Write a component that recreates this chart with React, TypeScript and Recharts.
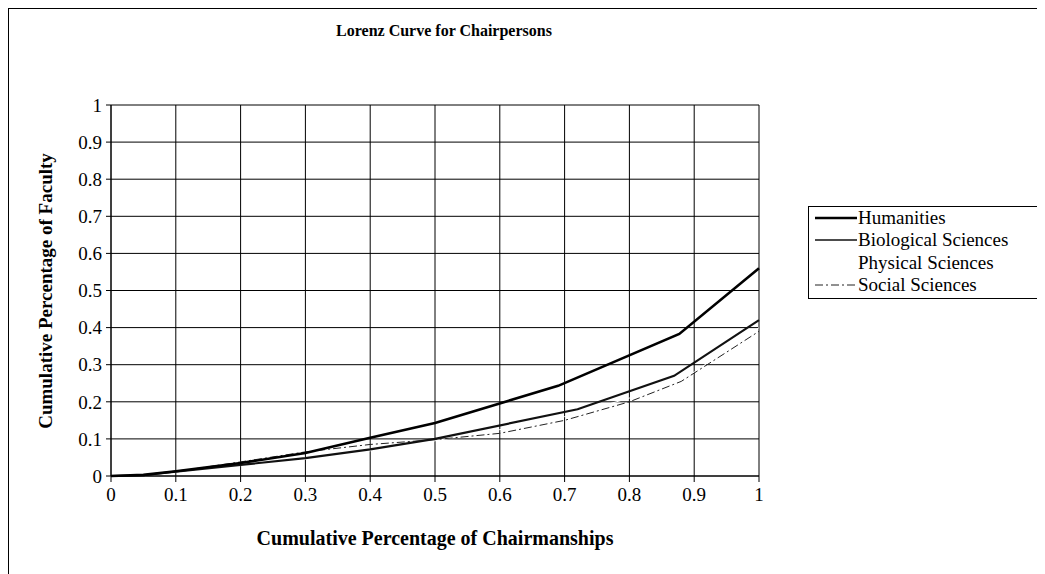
import React from 'react'
import { CartesianGrid, Line, LineChart, XAxis, YAxis } from 'recharts'

// Lorenz curves (x = cumulative share of chairmanships, y = cumulative share of faculty)
const humanities = [
  { x: 0, y: 0 },
  { x: 0.05, y: 0.003 },
  { x: 0.1, y: 0.013 },
  { x: 0.2, y: 0.035 },
  { x: 0.3, y: 0.062 },
  { x: 0.4, y: 0.103 },
  { x: 0.5, y: 0.143 },
  { x: 0.69, y: 0.243 },
  { x: 0.877, y: 0.383 },
  { x: 1, y: 0.56 },
]
const biological = [
  { x: 0, y: 0 },
  { x: 0.05, y: 0.002 },
  { x: 0.1, y: 0.012 },
  { x: 0.2, y: 0.03 },
  { x: 0.3, y: 0.048 },
  { x: 0.4, y: 0.072 },
  { x: 0.5, y: 0.1 },
  { x: 0.72, y: 0.18 },
  { x: 0.869, y: 0.27 },
  { x: 1, y: 0.42 },
]
const physical = [
  { x: 0, y: 0 },
  { x: 0.1, y: 0.01 },
  { x: 0.2, y: 0.028 },
  { x: 0.3, y: 0.045 },
  { x: 0.4, y: 0.068 },
  { x: 0.5, y: 0.095 },
  { x: 0.6, y: 0.125 },
  { x: 0.7, y: 0.16 },
  { x: 0.8, y: 0.21 },
  { x: 0.9, y: 0.28 },
  { x: 1, y: 0.4 },
]
const social = [
  { x: 0, y: 0 },
  { x: 0.05, y: 0.002 },
  { x: 0.1, y: 0.012 },
  { x: 0.2, y: 0.038 },
  { x: 0.3, y: 0.065 },
  { x: 0.4, y: 0.085 },
  { x: 0.5, y: 0.098 },
  { x: 0.6, y: 0.115 },
  { x: 0.7, y: 0.15 },
  { x: 0.8, y: 0.2 },
  { x: 0.88, y: 0.255 },
  { x: 1, y: 0.39 },
]

const ticks = [0, 0.1, 0.2, 0.3, 0.4, 0.5, 0.6, 0.7, 0.8, 0.9, 1]
// minor tick marks on the value axis, every 0.02
const minorTicks = Array.from({ length: 51 }, (_, i) => i / 50)

const FONT = '"Liberation Serif", "Times New Roman", serif'

const legendItems = [
  { name: 'Humanities', width: 2.5, dash: undefined as string | undefined, color: '#000' },
  { name: 'Biological Sciences', width: 1.5, dash: undefined, color: '#111' },
  { name: 'Physical Sciences', width: 0, dash: undefined, color: 'transparent' },
  { name: 'Social Sciences', width: 1, dash: '8 3 2 3', color: '#222' },
]

function LegendBox() {
  return (
    <div
      style={{
        position: 'absolute',
        left: 799,
        top: 197,
        border: '1px solid #000',
        background: '#fff',
        width: 222,
        padding: '0 0 2px 6px',
        fontFamily: FONT,
        fontSize: 19,
        color: '#000',
      }}
    >
      {legendItems.map((it) => (
        <div key={it.name} style={{ display: 'flex', alignItems: 'center', height: 22.3 }}>
          <svg width={42} height={10} style={{ marginRight: 1 }}>
            {it.width > 0 && (
              <line
                x1={0}
                y1={5}
                x2={42}
                y2={5}
                stroke={it.color}
                strokeWidth={it.width}
                strokeDasharray={it.dash}
              />
            )}
          </svg>
          <span>{it.name}</span>
        </div>
      ))}
    </div>
  )
}

export default function App() {
  return (
    <div
      style={{
        position: 'relative',
        width: 1037,
        height: 566,
        borderLeft: '1px solid #000',
        borderTop: '1px solid #000',
        boxSizing: 'border-box',
        background: '#fff',
      }}
    >
      <div
        style={{
          position: 'absolute',
          left: 0,
          width: 870,
          top: 13,
          textAlign: 'center',
          fontFamily: FONT,
          fontWeight: 'bold',
          fontSize: 16,
        }}
      >
        Lorenz Curve for Chairpersons
      </div>
      <div
        style={{
          position: 'absolute',
          left: 37,
          top: 282,
          transform: 'translate(-50%, -50%) rotate(-90deg)',
          whiteSpace: 'nowrap',
          fontFamily: FONT,
          fontWeight: 'bold',
          fontSize: 19,
        }}
      >
        Cumulative Percentage of Faculty
      </div>
      <div
        style={{
          position: 'absolute',
          left: 102,
          width: 648,
          top: 518,
          textAlign: 'center',
          fontFamily: FONT,
          fontWeight: 'bold',
          fontSize: 20,
        }}
      >
        Cumulative Percentage of Chairmanships
      </div>
      <LineChart
        width={1036}
        height={565}
        margin={{ top: 96, right: 286, bottom: 68, left: 0 }}
        style={{ position: 'absolute', left: 0, top: 0 }}
      >
        <CartesianGrid stroke="#000" strokeWidth={1} horizontalValues={ticks} verticalValues={ticks} />
        <XAxis
          type="number"
          dataKey="x"
          domain={[0, 1]}
          ticks={ticks}
          interval={0}
          tickSize={6}
          tickMargin={6}
          stroke="#000"
          tick={{ fill: '#000', fontFamily: FONT, fontSize: 19 }}
          height={30}
          allowDuplicatedCategory={false}
        />
        <YAxis
          type="number"
          domain={[0, 1]}
          ticks={ticks}
          interval={0}
          tickSize={5}
          tickMargin={4}
          width={102}
          stroke="#000"
          tick={{ fill: '#000', fontFamily: FONT, fontSize: 19 }}
        />
        <YAxis
          yAxisId="minor"
          type="number"
          domain={[0, 1]}
          ticks={minorTicks}
          interval={0}
          mirror
          width={0}
          tickSize={4}
          axisLine={false}
          tickFormatter={() => ''}
          stroke="#000"
        />
        <Line
          data={physical}
          dataKey="y"
          name="Physical Sciences"
          stroke="#ffffff"
          strokeWidth={1}
          dot={false}
          isAnimationActive={false}
        />
        <Line
          data={social}
          dataKey="y"
          name="Social Sciences"
          stroke="#222"
          strokeWidth={1}
          strokeDasharray="8 3 2 3"
          dot={false}
          isAnimationActive={false}
        />
        <Line
          data={biological}
          dataKey="y"
          name="Biological Sciences"
          stroke="#111"
          strokeWidth={2.2}
          dot={false}
          isAnimationActive={false}
        />
        <Line
          data={humanities}
          dataKey="y"
          name="Humanities"
          stroke="#000"
          strokeWidth={2.6}
          dot={false}
          isAnimationActive={false}
        />
      </LineChart>
      <LegendBox />
    </div>
  )
}
